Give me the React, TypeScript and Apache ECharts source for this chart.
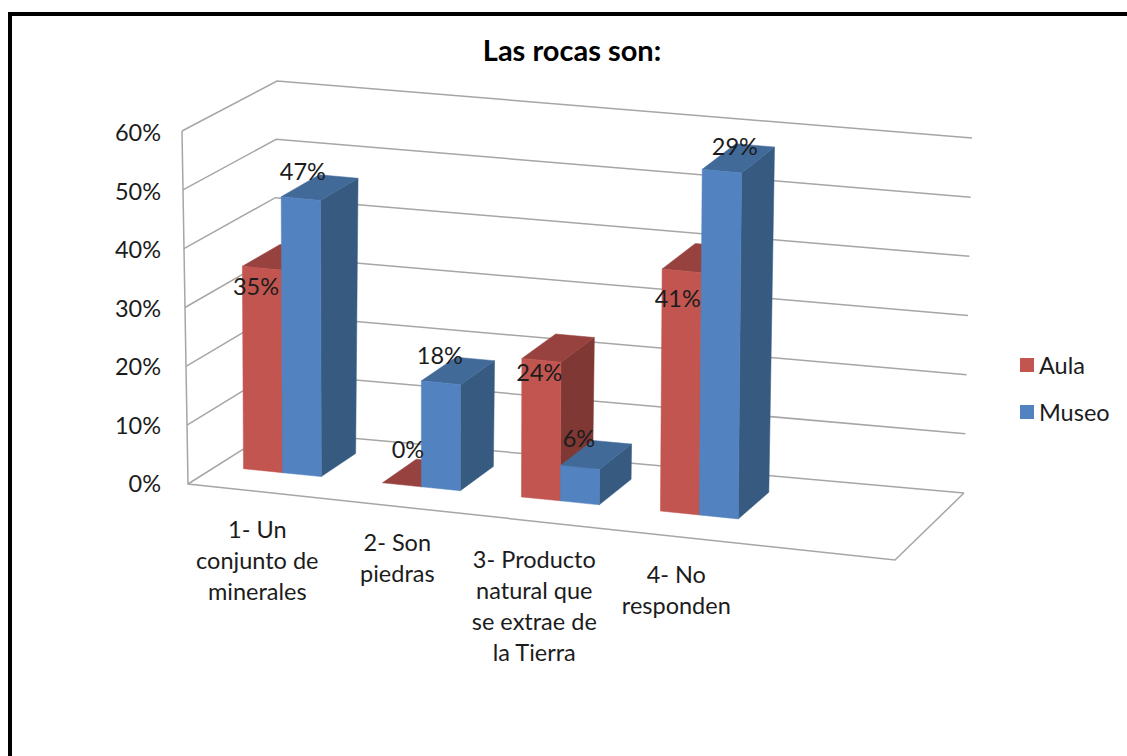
import React, { useEffect, useRef } from "react";
import * as echarts from "echarts";

const titleText = "Las rocas son:";
const categories = [
  "1- Un\nconjunto de\nminerales",
  "2- Son\npiedras",
  "3- Producto\nnatural que\nse extrae de\nla Tierra",
  "4- No\nresponden",
];
const aulaValues = [0.345, 0, 0.235, 0.41];
const museoValues = [0.47, 0.18, 0.06, 0.585];
const aulaLabels = ["35%", "0%", "24%", "41%"];
const museoLabels = ["47%", "18%", "6%", "29%"];
const yTicks = [0, 0.1, 0.2, 0.3, 0.4, 0.5, 0.6];

// Layout of the oblique box: corners in page pixels
const FLB = [188, 484], FRB = [895, 560], BLB = [272, 431], BRB = [964, 493];
const FLT = [182, 131], FRT = [899, 204], BLT = [277, 81], BRT = [972, 138];
const BAND_SPAN = 0.792, BAND_START = -0.0052;
const BAR_FRAC = 0.28, V0 = 0.34, V1 = 0.76;
const aulaNudge = [[-6, 18], [6, -36], [-2, 12], [-4, 27]];
const museoNudge = [[2, -28], [-1, -28], [-1, -29], [13, -25]];
const categoryNudge = [[3, 0], [3, -2], [0, 0], [2, 0]];
const FONT = "Lato";
const FONT_SIZE = 23.5;
const INK = "#1c1c1c";
const AULA = { front: "#C25550", top: "#97423E", side: "#7F3833" };
const MUSEO = { front: "#5382C0", top: "#426A99", side: "#375A81" };

const mix = (a: number[], b: number[], t: number) => [a[0] + (b[0] - a[0]) * t, a[1] + (b[1] - a[1]) * t];
function project(u: number, v: number, w: number) {
  const bottom = mix(mix(FLB, FRB, u), mix(BLB, BRB, u), v);
  const top = mix(mix(FLT, FRT, u), mix(BLT, BRT, u), v);
  return mix(bottom, top, w);
}
const toU = (px: number, cs: any) => BAND_START + ((px - cs.x) / cs.width) * BAND_SPAN;
const toW = (py: number, cs: any) => (cs.y + cs.height - py) / cs.height;

function barRenderer(offset: number, colors: typeof AULA) {
  return (params: any, api: any) => {
    const cs = params.coordSys;
    const pt = api.coord([api.value(0), api.value(1)]);
    const band = (api.size([1, 0])[0] / cs.width) * BAND_SPAN;
    const uc = toU(pt[0], cs);
    const u0 = uc + offset * BAR_FRAC * band;
    const u1 = u0 + BAR_FRAC * band;
    const w = toW(pt[1], cs);
    const face = (pts: number[][], fill: string) => ({
      type: "polygon",
      shape: { points: pts },
      style: { fill, stroke: fill, lineWidth: 0.5 },
    });
    const children = [
      face([project(u1, V0, 0), project(u1, V1, 0), project(u1, V1, w), project(u1, V0, w)], colors.side),
      face([project(u0, V0, w), project(u1, V0, w), project(u1, V1, w), project(u0, V1, w)], colors.top),
    ];
    if (w > 0) {
      children.push(face([project(u0, V0, 0), project(u1, V0, 0), project(u1, V0, w), project(u0, V0, w)], colors.front));
    }
    return { type: "group", children };
  };
}

function labelRenderer(offset: number, texts: string[], nudge: number[][]) {
  return (params: any, api: any) => {
    const cs = params.coordSys;
    const i = api.value(0);
    const pt = api.coord([i, api.value(1)]);
    const band = (api.size([1, 0])[0] / cs.width) * BAND_SPAN;
    const u = toU(pt[0], cs) + (offset + 0.5) * BAR_FRAC * band;
    const p = project(u, V0, toW(pt[1], cs));
    return {
      type: "text",
      x: p[0] + nudge[i][0],
      y: p[1] + nudge[i][1],
      style: {
        text: texts[i],
        fill: INK,
        fontSize: FONT_SIZE,
        fontFamily: FONT,
        align: "center",
        verticalAlign: "middle",
      },
    };
  };
}

export default function App() {
  const ref = useRef<HTMLDivElement>(null);
  useEffect(() => {
    document.body.style.margin = "0";
    document.body.style.overflow = "hidden";
    const chart = echarts.init(ref.current!, undefined, { renderer: "svg" });
    const idx = categories.map((_, i) => i);
    chart.setOption({
      animation: false,
      backgroundColor: "#ffffff",
      title: {
        text: titleText,
        left: 567,
        top: 30,
        textAlign: "center",
        textStyle: { fontFamily: FONT, fontSize: 29, fontWeight: 700, color: "#000000" },
      },
      legend: {
        left: 1015,
        top: 348,
        orient: "vertical",
        itemWidth: 14,
        itemHeight: 14,
        itemGap: 23,
        data: [
          { name: "Aula", icon: "rect" },
          { name: "Museo", icon: "rect" },
        ],
        textStyle: { fontFamily: FONT, fontSize: FONT_SIZE, color: INK },
      },
      grid: { left: 170, top: 132, width: 560, height: 351 },
      xAxis: {
        type: "category",
        data: categories,
        axisLine: { show: false },
        axisTick: { show: false },
        axisLabel: { show: false },
      },
      yAxis: {
        type: "value",
        min: 0,
        max: 0.6,
        interval: 0.1,
        axisLine: { show: false },
        axisTick: { show: false },
        splitLine: { show: false },
        axisLabel: {
          margin: 9,
          fontFamily: FONT,
          fontSize: FONT_SIZE,
          color: INK,
          formatter: (v: number) => `${Math.round(v * 100)}%`,
        },
      },
      graphic: [
        {
          type: "rect",
          shape: { x: 10, y: 14, width: 1300, height: 900 },
          style: { fill: "none", stroke: "#000000", lineWidth: 4 },
          silent: true,
          z: 100,
        },
      ],
      series: [
        {
          type: "custom",
          name: "walls",
          silent: true,
          z: 1,
          data: yTicks.map((t) => [0, t]),
          renderItem: (params: any, api: any) => {
            const cs = params.coordSys;
            const w = toW(api.coord([api.value(0), api.value(1)])[1], cs);
            const line = { stroke: "#A6A6A6", lineWidth: 1.5, fill: "none" };
            const children: any[] = [
              {
                type: "polyline",
                shape: { points: [project(0, 0, w), project(0, 1, w), project(1, 1, w)] },
                style: line,
              },
            ];
            if (w === 0) {
              children.push({
                type: "polyline",
                shape: { points: [project(1, 1, 0), project(1, 0, 0), project(0, 0, 0), project(0, 0, 1)] },
                style: line,
              });
            }
            return { type: "group", children };
          },
        },
        {
          type: "custom",
          name: "Aula",
          silent: true,
          z: 2,
          itemStyle: { color: AULA.front },
          data: aulaValues.map((v, i) => [i, v]),
          renderItem: barRenderer(-1, AULA),
        },
        {
          type: "custom",
          name: "Museo",
          silent: true,
          z: 3,
          itemStyle: { color: MUSEO.front },
          data: museoValues.map((v, i) => [i, v]),
          renderItem: barRenderer(0, MUSEO),
        },
        {
          type: "custom",
          name: "aulaLabels",
          silent: true,
          z: 4,
          data: aulaValues.map((v, i) => [i, v]),
          renderItem: labelRenderer(-1, aulaLabels, aulaNudge),
        },
        {
          type: "custom",
          name: "museoLabels",
          silent: true,
          z: 4,
          data: museoValues.map((v, i) => [i, v]),
          renderItem: labelRenderer(0, museoLabels, museoNudge),
        },
        {
          type: "custom",
          name: "categoryLabels",
          silent: true,
          z: 4,
          data: idx.map((i) => [i, 0]),
          renderItem: (params: any, api: any) => {
            const cs = params.coordSys;
            const i = api.value(0);
            const pt = api.coord([i, 0]);
            const p = project(toU(pt[0], cs), 0, 0);
            return {
              type: "text",
              x: p[0] + categoryNudge[i][0],
              y: p[1] + 22.5 + categoryNudge[i][1],
              style: {
                text: categories[i],
                fill: INK,
                fontSize: FONT_SIZE,
                fontFamily: FONT,
                lineHeight: 31,
                align: "center",
                verticalAlign: "top",
              },
            };
          },
        },
      ],
    });
    return () => chart.dispose();
  }, []);
  return <div ref={ref} style={{ width: 1127, height: 756 }} />;
}
